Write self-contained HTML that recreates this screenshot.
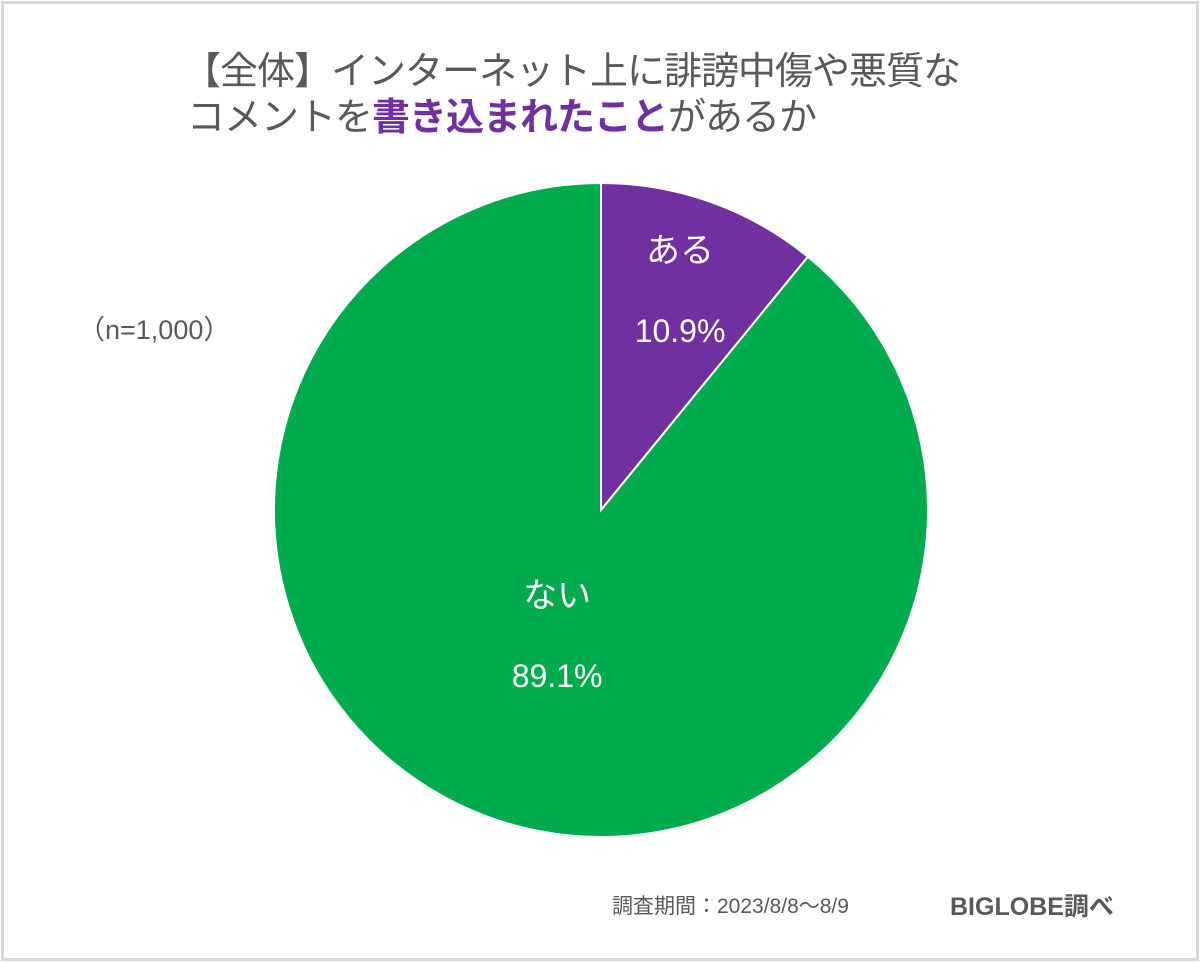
<!DOCTYPE html>
<html><head><meta charset="utf-8"><style>
html,body{margin:0;padding:0;background:#fff}
body{width:1200px;height:962px;position:relative;overflow:hidden;font-family:"Liberation Sans","Noto Sans CJK JP",sans-serif}
.frame{position:absolute;left:1px;top:1px;width:1192px;height:954px;border:3px solid #d9d9d9}
.t{position:absolute;color:#595959;white-space:nowrap;letter-spacing:-1px}
</style></head><body>
<div class="frame"></div>
<div class="t" style="left:183px;top:40px;font-size:38px">【全体】インターネット上に誹謗中傷や悪質な</div>
<div class="t" style="left:187px;top:86px;font-size:38px">コメントを<span style="color:#7030a0;font-weight:bold">書き込まれたこと</span>があるか</div>
<div class="t" style="left:78px;top:308px;font-size:27px;letter-spacing:0">（n=1,000）</div>
<svg id="pie" width="1200" height="962" style="position:absolute;left:0;top:0"></svg>
<div class="t" style="left:612px;top:890px;font-size:21px;letter-spacing:0">調査期間：2023/8/8～8/9</div>
<div class="t" style="left:950px;top:887px;font-size:25px;font-weight:bold;letter-spacing:0">BIGLOBE調べ</div>
<script>
const categories=["ある","ない"];
const values=[10.9,89.1];
const valueLabels=["10.9%","89.1%"];
const colors=["#7030a0","#00ab4e"];
const svg=document.getElementById('pie');
const NS="http://www.w3.org/2000/svg";
const cx=601,cy=510,r=327;
const total=values.reduce((a,b)=>a+b,0);
let start=0;
values.forEach((v,i)=>{
  const a0=start/total*2*Math.PI, a1=(start+v)/total*2*Math.PI;
  start+=v;
  const x0=cx+r*Math.sin(a0),y0=cy-r*Math.cos(a0),x1=cx+r*Math.sin(a1),y1=cy-r*Math.cos(a1);
  const large=(a1-a0)>Math.PI?1:0;
  const p=document.createElementNS(NS,'path');
  p.setAttribute('d',`M${cx},${cy}L${x0},${y0}A${r},${r} 0 ${large} 1 ${x1},${y1}Z`);
  p.setAttribute('fill',colors[i]);p.setAttribute('stroke','#fff');p.setAttribute('stroke-width','2');
  
  
  svg.appendChild(p);
  const mid=(a0+a1)/2, lr=i===0?r*0.72:r*0.4;
  const lx=cx+lr*Math.sin(mid), ly=cy-lr*Math.cos(mid);
  const t1=document.createElementNS(NS,'text');
  t1.setAttribute('x',lx);t1.setAttribute('y',ly-26);t1.setAttribute('text-anchor','middle');
  t1.setAttribute('fill','#fff');t1.setAttribute('font-size','34');
  t1.textContent=categories[i];
  
  
  svg.appendChild(t1);
  const t2=document.createElementNS(NS,'text');
  t2.setAttribute('x',lx);t2.setAttribute('y',ly+54);t2.setAttribute('text-anchor','middle');
  t2.setAttribute('fill','#fff');t2.setAttribute('font-size','32');
  t2.textContent=valueLabels[i];
  
  
  svg.appendChild(t2);
});
</script>
</body></html>
